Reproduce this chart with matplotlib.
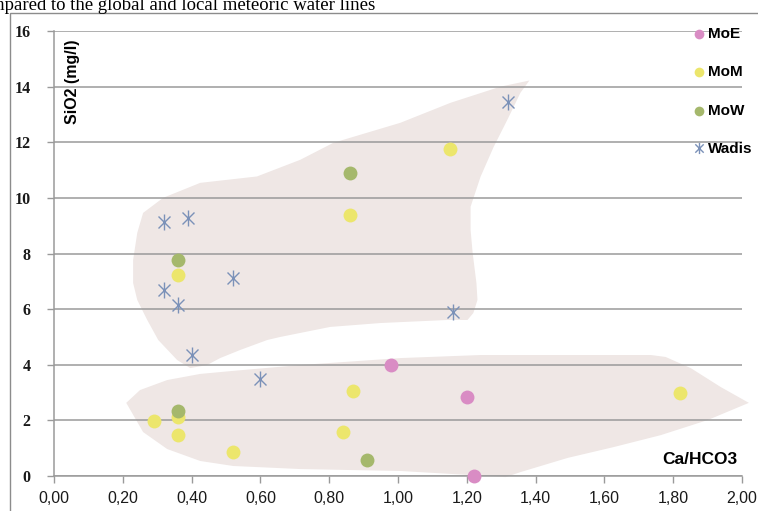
import numpy as np
import matplotlib
matplotlib.use('Agg')
import matplotlib.pyplot as plt
from matplotlib.path import Path
from matplotlib.patches import Rectangle

# data
moe_x = [0.98, 1.20, 1.22]
moe_y = [3.99, 2.85, 0.00]

mom_x = [1.15, 0.86, 0.36, 0.29, 0.36, 0.36, 0.52, 0.87, 0.84, 1.82]
mom_y = [11.75, 9.40, 7.22, 1.98, 2.11, 1.49, 0.85, 3.06, 1.57, 3.00]

mow_x = [0.86, 0.36, 0.36, 0.91]
mow_y = [10.89, 7.77, 2.34, 0.59]

wadis_x = [1.32, 0.32, 0.39, 0.32, 0.36, 0.52, 1.16, 0.40, 0.60]
wadis_y = [13.43, 9.13, 9.29, 6.69, 6.15, 7.13, 5.91, 4.35, 3.48]

# outlines of the two shaded groups
upper_x = [1.382, 1.298, 1.153, 1.007, 0.812, 0.716, 0.590, 0.425, 0.317, 0.259,
           0.242, 0.230, 0.230, 0.242, 0.271, 0.303, 0.358, 0.396, 0.445, 0.483,
           0.541, 0.620, 0.658, 0.803, 0.949, 1.144, 1.202, 1.219, 1.231, 1.228,
           1.217, 1.211, 1.211, 1.240, 1.278, 1.318, 1.356]
upper_y = [14.22, 14.00, 13.42, 12.70, 11.98, 11.37, 10.77, 10.54, 10.00, 9.46,
           8.74, 7.77, 6.94, 6.33, 5.61, 4.89, 4.17, 3.88, 3.99, 4.24,
           4.53, 4.89, 5.00, 5.36, 5.50, 5.61, 5.61, 5.86, 6.33, 6.94,
           8.02, 8.85, 9.68, 10.76, 11.83, 12.81, 13.78]

lower_x = [0.210, 0.250, 0.329, 0.425, 0.521, 0.716, 1.007, 1.240, 1.735, 1.778,
           1.851, 1.938, 2.020, 1.900, 1.764, 1.627, 1.493, 1.356, 1.313, 1.202,
           1.007, 0.716, 0.521, 0.425, 0.329, 0.259]
lower_y = [2.63, 3.09, 3.45, 3.67, 3.78, 3.99, 4.24, 4.35, 4.35, 4.28,
           3.88, 3.20, 2.63, 2.01, 1.47, 1.04, 0.65, 0.14, -0.04, 0.04,
           0.18, 0.25, 0.36, 0.54, 0.97, 1.58]

xticks = [0.0, 0.2, 0.4, 0.6, 0.8, 1.0, 1.2, 1.4, 1.6, 1.8, 2.0]
xticklabels = ['0,00', '0,20', '0,40', '0,60', '0,80', '1,00',
               '1,20', '1,40', '1,60', '1,80', '2,00']
yticks = [0, 2, 4, 6, 8, 10, 12, 14, 16]

# asterisk marker like the spreadsheet one (X plus vertical bar)
star = Path([(0, -1), (0, 1), (-0.75, -0.75), (0.75, 0.75), (-0.75, 0.75), (0.75, -0.75)],
            [Path.MOVETO, Path.LINETO, Path.MOVETO, Path.LINETO, Path.MOVETO, Path.LINETO])

pink = '#d98cc4'
yellow = '#ece66c'
green = '#a5b86c'
blue = '#7b91b8'
shade = '#efe7e5'
gray = '#9a9a9a'

fig = plt.figure(figsize=(7.58, 5.11), dpi=100)
ax = fig.add_axes([54 / 758, 1 - 476 / 511, 688 / 758, 445 / 511])
ax.set_axisbelow('line')

ax.fill(upper_x, upper_y, color=shade, lw=0, zorder=1, clip_on=False)
ax.fill(lower_x, lower_y, color=shade, lw=0, zorder=1, clip_on=False)

ms = 100
ax.scatter(moe_x, moe_y, s=ms, color=pink, lw=0, zorder=3, clip_on=False, label='MoE')
ax.scatter(mom_x, mom_y, s=ms, color=yellow, lw=0, zorder=3, clip_on=False, label='MoM')
ax.scatter(mow_x, mow_y, s=ms, color=green, lw=0, zorder=4, clip_on=False, label='MoW')
ax.plot(wadis_x, wadis_y, ls='', marker=star, ms=11.5, mew=1.0, color=blue,
        zorder=3, label='Wadis')

ax.set_xlim(0, 2)
ax.set_ylim(0, 16)
ax.set_xticks(xticks)
ax.set_xticklabels(xticklabels, family='Liberation Sans', fontsize=11.5)
ax.set_yticks(yticks)
ax.set_yticklabels([str(v) for v in yticks], family='Liberation Serif',
                   fontweight='bold', fontsize=11.5)
ax.tick_params(axis='both', colors=gray, labelcolor='#1a1a1a', length=5, width=1)
ax.tick_params(axis='x', pad=6)
ax.tick_params(axis='y', pad=12)

ax.yaxis.grid(True, color=gray, lw=1.1)
for s in ['top', 'right']:
    ax.spines[s].set_visible(False)
for s in ['left', 'bottom']:
    ax.spines[s].set_color(gray)
    ax.spines[s].set_linewidth(1.1)

ax.text(0.027, 0.98, 'SiO2 (mg/l)', transform=ax.transAxes, rotation=90,
        ha='center', va='top', fontsize=11.5, fontweight='bold', family='Liberation Sans')
ax.text(0.993, 0.037, 'Ca/HCO3', transform=ax.transAxes, ha='right', va='center',
        fontsize=12.5, fontweight='bold', family='Liberation Sans')

lg = ax.legend(loc='upper left', bbox_to_anchor=(684 / 758, 1 - 19 / 511),
               bbox_transform=fig.transFigure, frameon=False, labelspacing=1.6,
               handletextpad=0.1, handlelength=1.0, borderpad=0, markerscale=0.7,
               prop={'family': 'Liberation Sans', 'weight': 'bold', 'size': 11})

# caption fragment above the chart and the chart frame
fig.text(-10 / 758, 1 - 9.5 / 511, 'mpared to the global and local meteoric water lines',
         family='Liberation Serif', fontsize=13.5, va='baseline', ha='left')
fig.patches.append(Rectangle((10 / 758, -0.1), 1.0, 1 - 13 / 511 + 0.1,
                             transform=fig.transFigure, fill=False,
                             edgecolor='#8c8c8c', lw=1.0))

fig.savefig('out.png', dpi=100)
